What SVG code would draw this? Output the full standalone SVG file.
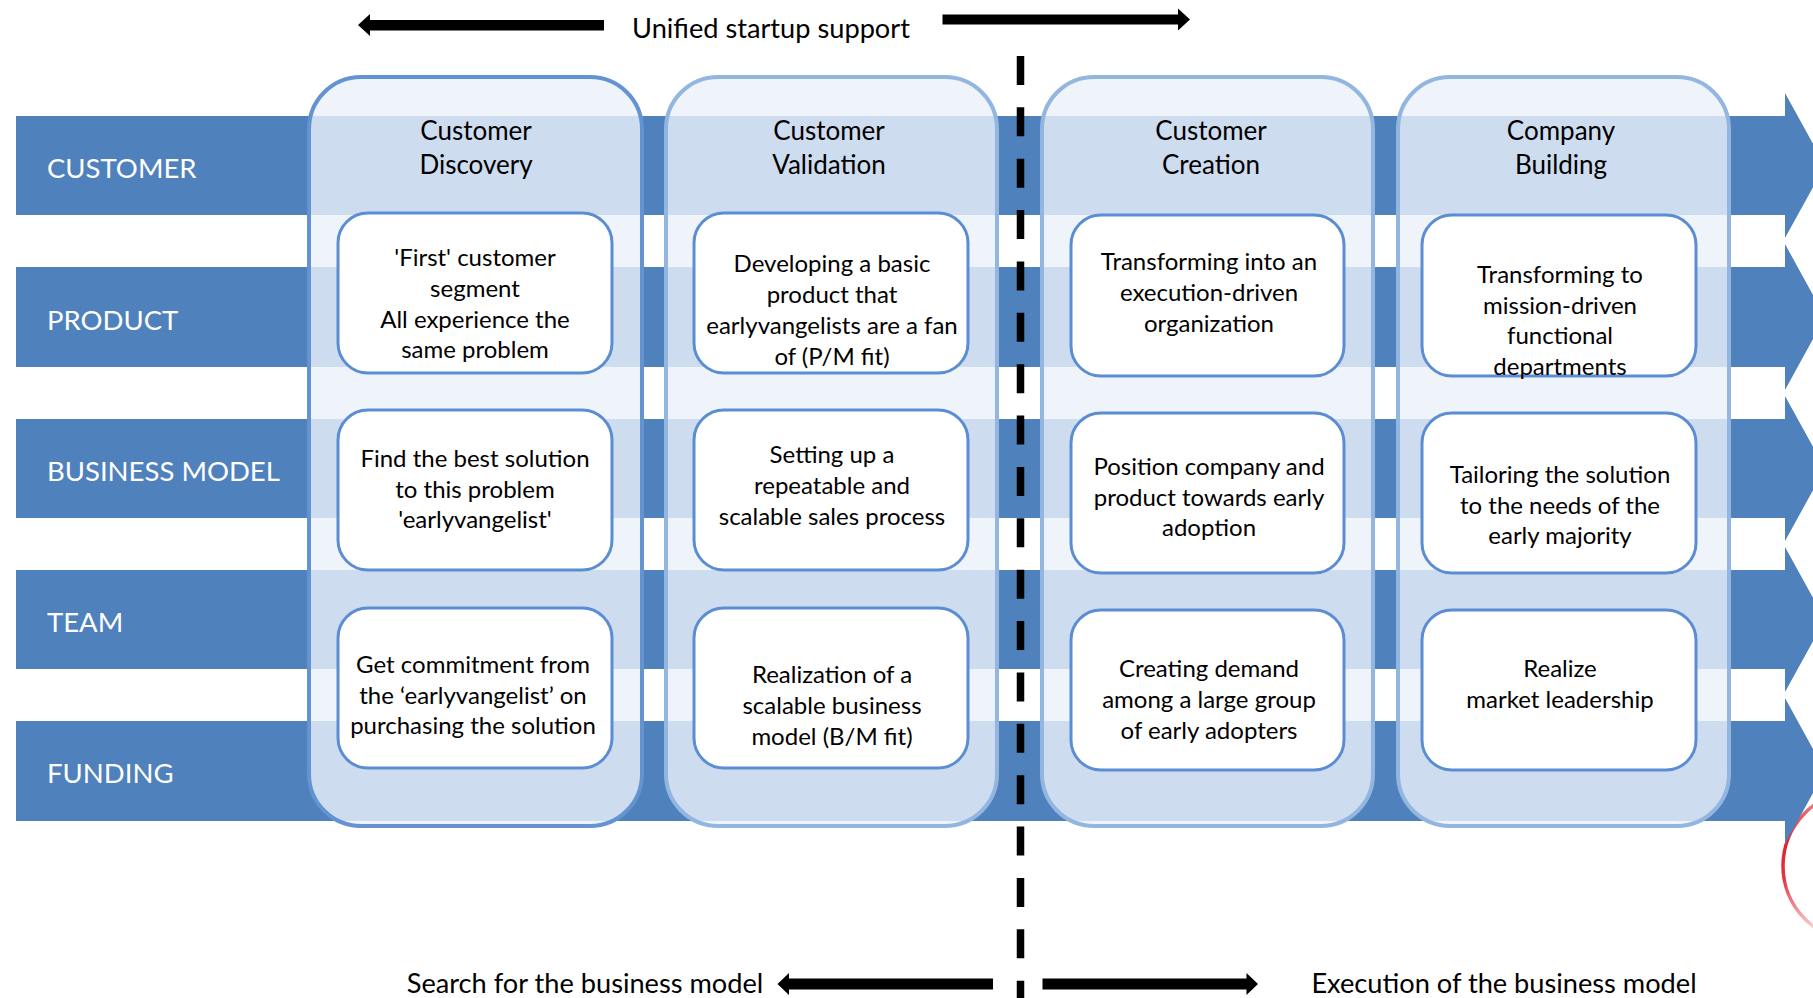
<svg xmlns="http://www.w3.org/2000/svg" width="1813" height="998" viewBox="0 0 1813 998">
<defs>
<style>
text{font-family:Lato,'Liberation Sans',sans-serif;fill:#000}
.lane{fill:#4f81bd}
.lane-label{font-size:27.5px;fill:#fff}
.col{fill:#ebf1fa;fill-opacity:.81;stroke:#93b6e0;stroke-width:4}
.col1{stroke:#6393d0}
.hdr{font-size:26px;text-anchor:middle}
.box{fill:#fff;stroke:#5b8dd3;stroke-width:3}
.txt{font-size:24px;text-anchor:middle}
.big{font-size:27.2px}
.arrow{fill:#000}
.dash{stroke:#000;stroke-width:7.5;stroke-dasharray:29 22.37;fill:none}
</style>
<linearGradient id="redfade" x1="0" y1="790" x2="0" y2="940" gradientUnits="userSpaceOnUse">
<stop offset="0" stop-color="#e0202c" stop-opacity="0.45"/>
<stop offset="0.35" stop-color="#e0202c" stop-opacity="1"/>
<stop offset="0.6" stop-color="#e0202c" stop-opacity="0.9"/>
<stop offset="1" stop-color="#e0202c" stop-opacity="0.05"/>
</linearGradient>
</defs>
<rect width="1813" height="998" fill="#fff"/>

<circle id="red-mark" cx="1858" cy="866" r="75" fill="none" stroke="url(#redfade)" stroke-width="3.5"/>

<g id="lane-customer">
<polygon class="lane" points="16,116 1785,116 1785,93 1825,165.5 1785,238 1785,215 16,215"/>
<text class="lane-label" x="47" y="178">CUSTOMER</text>
</g>
<g id="lane-product">
<polygon class="lane" points="16,267 1785,267 1785,244 1825,317 1785,390 1785,367 16,367"/>
<text class="lane-label" x="47" y="329.5">PRODUCT</text>
</g>
<g id="lane-business-model">
<polygon class="lane" points="16,419 1785,419 1785,396 1825,468.5 1785,541 1785,518 16,518"/>
<text class="lane-label" x="47" y="481">BUSINESS MODEL</text>
</g>
<g id="lane-team">
<polygon class="lane" points="16,570 1785,570 1785,547 1825,619.5 1785,692 1785,669 16,669"/>
<text class="lane-label" x="47" y="632">TEAM</text>
</g>
<g id="lane-funding">
<polygon class="lane" points="16,721 1785,721 1785,698 1825,771 1785,844 1785,821 16,821"/>
<text class="lane-label" x="47" y="783">FUNDING</text>
</g>

<g id="phase-customer-discovery">
<rect class="col col1" x="309" y="77" width="333" height="749" rx="52"/>
<text class="hdr" x="476" y="139.5">Customer</text>
<text class="hdr" x="476" y="174">Discovery</text>
</g>
<g id="phase-customer-validation">
<rect class="col" x="666" y="77" width="331" height="749" rx="52"/>
<text class="hdr" x="829" y="139.5">Customer</text>
<text class="hdr" x="829" y="174">Validation</text>
</g>
<g id="phase-customer-creation">
<rect class="col" x="1042" y="77" width="331" height="749" rx="52"/>
<text class="hdr" x="1211" y="139.5">Customer</text>
<text class="hdr" x="1211" y="174">Creation</text>
</g>
<g id="phase-company-building">
<rect class="col" x="1398" y="77" width="331" height="749" rx="52"/>
<text class="hdr" x="1561" y="139.5">Company</text>
<text class="hdr" x="1561" y="174">Building</text>
</g>

<g id="cd-1">
<rect class="box" x="338" y="213" width="274" height="160" rx="30"/>
<text class="txt" x="475"><tspan x="475" y="266">'First' customer</tspan><tspan x="475" y="297">segment</tspan><tspan x="475" y="328">All experience the</tspan><tspan x="475" y="358">same problem</tspan></text>
</g>
<g id="cd-2">
<rect class="box" x="338" y="410" width="274" height="160" rx="30"/>
<text class="txt" x="475"><tspan x="475" y="467">Find the best solution</tspan><tspan x="475" y="498">to this problem</tspan><tspan x="475" y="528">'earlyvangelist'</tspan></text>
</g>
<g id="cd-3">
<rect class="box" x="338" y="608" width="274" height="160" rx="30"/>
<text class="txt" x="473"><tspan x="473" y="673">Get commitment from</tspan><tspan x="473" y="704">the ‘earlyvangelist’ on</tspan><tspan x="473" y="734">purchasing the solution</tspan></text>
</g>

<g id="cv-1">
<rect class="box" x="694" y="213" width="274" height="160" rx="30"/>
<text class="txt" x="832"><tspan x="832" y="272">Developing a basic</tspan><tspan x="832" y="303">product that</tspan><tspan x="832" y="334">earlyvangelists are a fan</tspan><tspan x="832" y="365">of (P/M fit)</tspan></text>
</g>
<g id="cv-2">
<rect class="box" x="694" y="410" width="274" height="160" rx="30"/>
<text class="txt" x="832"><tspan x="832" y="463">Setting up a</tspan><tspan x="832" y="494">repeatable and</tspan><tspan x="832" y="525">scalable sales process</tspan></text>
</g>
<g id="cv-3">
<rect class="box" x="694" y="608" width="274" height="160" rx="30"/>
<text class="txt" x="832"><tspan x="832" y="683">Realization of a</tspan><tspan x="832" y="714">scalable business</tspan><tspan x="832" y="745">model (B/M fit)</tspan></text>
</g>

<g id="cc-1">
<rect class="box" x="1071" y="215" width="273" height="161" rx="30"/>
<text class="txt" x="1209"><tspan x="1209" y="270">Transforming into an</tspan><tspan x="1209" y="301">execution-driven</tspan><tspan x="1209" y="332">organization</tspan></text>
</g>
<g id="cc-2">
<rect class="box" x="1071" y="413" width="273" height="160" rx="30"/>
<text class="txt" x="1209"><tspan x="1209" y="475">Position company and</tspan><tspan x="1209" y="506">product towards early</tspan><tspan x="1209" y="536">adoption</tspan></text>
</g>
<g id="cc-3">
<rect class="box" x="1071" y="610" width="273" height="160" rx="30"/>
<text class="txt" x="1209"><tspan x="1209" y="677">Creating demand</tspan><tspan x="1209" y="708">among a large group</tspan><tspan x="1209" y="739">of early adopters</tspan></text>
</g>

<g id="cb-1">
<rect class="box" x="1422" y="215" width="274" height="161" rx="30"/>
<text class="txt" x="1560"><tspan x="1560" y="283">Transforming to</tspan><tspan x="1560" y="314">mission-driven</tspan><tspan x="1560" y="344">functional</tspan><tspan x="1560" y="375">departments</tspan></text>
</g>
<g id="cb-2">
<rect class="box" x="1422" y="413" width="274" height="160" rx="30"/>
<text class="txt" x="1560"><tspan x="1560" y="483">Tailoring the solution</tspan><tspan x="1560" y="514">to the needs of the</tspan><tspan x="1560" y="544">early majority</tspan></text>
</g>
<g id="cb-3">
<rect class="box" x="1422" y="610" width="274" height="160" rx="30"/>
<text class="txt" x="1560"><tspan x="1560" y="677">Realize</tspan><tspan x="1560" y="708">market leadership</tspan></text>
</g>

<g id="connectors">
<line class="dash" x1="1020.5" y1="56" x2="1020.5" y2="998"/>
<polygon class="arrow" points="604,20 370,20 370,14 358,25 370,36 370,30.5 604,30.5"/>
<polygon class="arrow" points="942.5,14.5 1178,14.5 1178,8.5 1190,19.5 1178,30.5 1178,24.5 942.5,24.5"/>
<polygon class="arrow" points="993,978.5 789,978.5 789,973 777.5,984 789,995 789,989.5 993,989.5"/>
<polygon class="arrow" points="1042.5,978.5 1246.5,978.5 1246.5,973 1258,984 1246.5,995 1246.5,989.5 1042.5,989.5"/>
</g>

<g id="captions">
<text class="big" x="771" y="38" text-anchor="middle">Unified startup support</text>
<text class="big" x="585" y="993" text-anchor="middle">Search for the business model</text>
<text class="big" x="1504" y="993" text-anchor="middle">Execution of the business model</text>
</g>
</svg>
